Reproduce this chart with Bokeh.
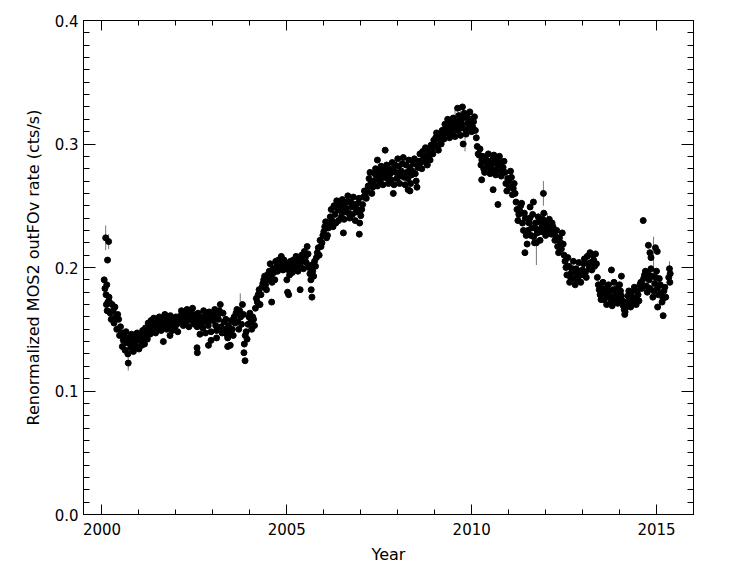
from bokeh.plotting import figure
from bokeh.models import (Range1d, LinearAxis, SingleIntervalTicker, PrintfTickFormatter,
                          CustomJSTickFormatter, ColumnDataSource)
from bokeh.embed import file_html
from bokeh.resources import INLINE

# ---- data ----
start_t = [2000.06, 2000.08, 2000.10, 2000.11, 2000.12, 2000.13, 2000.14, 2000.15, 2000.16, 2000.18, 2000.19]
start_r = [0.190, 0.183, 0.224, 0.178, 0.170, 0.186, 0.165, 0.206, 0.172, 0.221, 0.176]

main_t = [
    2000.20, 2000.25, 2000.30, 2000.35, 2000.40, 2000.45, 2000.50, 2000.55, 2000.60, 2000.65, 2000.70, 2000.75, 2000.80, 2000.85, 2000.90, 2000.95,
    2001.00, 2001.05, 2001.10, 2001.15, 2001.20, 2001.25, 2001.30, 2001.35, 2001.40, 2001.45, 2001.50, 2001.55, 2001.60, 2001.65, 2001.70, 2001.75, 2001.80, 2001.85, 2001.90, 2001.95,
    2002.00, 2002.05, 2002.10, 2002.15, 2002.20, 2002.25, 2002.30, 2002.35, 2002.40, 2002.45, 2002.50, 2002.55, 2002.60, 2002.65, 2002.70, 2002.75, 2002.80, 2002.85, 2002.90, 2002.95,
    2003.00, 2003.05, 2003.10, 2003.15, 2003.20, 2003.25, 2003.30, 2003.35, 2003.40, 2003.45, 2003.50, 2003.55, 2003.60, 2003.65, 2003.70, 2003.75, 2003.80, 2003.85, 2003.90, 2003.95,
    2004.00, 2004.05, 2004.10, 2004.15, 2004.20, 2004.25, 2004.30, 2004.35, 2004.40, 2004.45, 2004.50, 2004.55, 2004.60, 2004.65, 2004.70, 2004.75, 2004.80, 2004.85, 2004.90, 2004.95,
    2005.00, 2005.05, 2005.10, 2005.15, 2005.20, 2005.25, 2005.30, 2005.35, 2005.40, 2005.45, 2005.50, 2005.55, 2005.60, 2005.65, 2005.70, 2005.75, 2005.80, 2005.85, 2005.90, 2005.95,
    2006.00, 2006.05, 2006.10, 2006.15, 2006.20, 2006.25, 2006.30, 2006.35, 2006.40, 2006.45, 2006.50, 2006.55, 2006.60, 2006.65, 2006.70, 2006.75, 2006.80, 2006.85, 2006.90, 2006.95,
    2007.00, 2007.05, 2007.10, 2007.15, 2007.20, 2007.25, 2007.30, 2007.35, 2007.40, 2007.45, 2007.50, 2007.55, 2007.60, 2007.65, 2007.70, 2007.75, 2007.80, 2007.85, 2007.90, 2007.95,
    2008.00, 2008.05, 2008.10, 2008.15, 2008.20, 2008.25, 2008.30, 2008.35, 2008.40, 2008.45, 2008.50, 2008.55, 2008.60, 2008.65, 2008.70, 2008.75, 2008.80, 2008.85, 2008.90, 2008.95,
    2009.00, 2009.05, 2009.10, 2009.15, 2009.20, 2009.25, 2009.30, 2009.35, 2009.40, 2009.45, 2009.50, 2009.55, 2009.60, 2009.65, 2009.70, 2009.75, 2009.80, 2009.85, 2009.90, 2009.95,
    2010.00, 2010.05, 2010.10, 2010.15, 2010.20, 2010.25, 2010.30, 2010.35, 2010.40, 2010.45, 2010.50, 2010.55, 2010.60, 2010.65, 2010.70, 2010.75, 2010.80, 2010.85, 2010.90, 2010.95,
    2011.00, 2011.05, 2011.10, 2011.15, 2011.20, 2011.25, 2011.30, 2011.35, 2011.40, 2011.45, 2011.50, 2011.55, 2011.60, 2011.65, 2011.70, 2011.75, 2011.80, 2011.85, 2011.90, 2011.95,
    2012.00, 2012.05, 2012.10, 2012.15, 2012.20, 2012.25, 2012.30, 2012.35, 2012.40, 2012.45, 2012.50, 2012.55, 2012.60, 2012.65, 2012.70, 2012.75, 2012.80, 2012.85, 2012.90, 2012.95,
    2013.00, 2013.05, 2013.10, 2013.15, 2013.20, 2013.25, 2013.30, 2013.35, 2013.40, 2013.45, 2013.50, 2013.55, 2013.60, 2013.65, 2013.70, 2013.75, 2013.80, 2013.85, 2013.90, 2013.95,
    2014.00, 2014.05, 2014.10, 2014.15, 2014.20, 2014.25, 2014.30, 2014.35, 2014.40, 2014.45, 2014.50, 2014.55, 2014.60, 2014.65, 2014.70, 2014.75, 2014.80, 2014.85, 2014.90, 2014.95,
    2015.00, 2015.05, 2015.10, 2015.15, 2015.20, 2015.25,
]
main_r = [
    0.172, 0.158, 0.165, 0.168, 0.150, 0.158, 0.152, 0.136, 0.144, 0.148, 0.130, 0.139, 0.146, 0.132, 0.140, 0.147,
    0.134, 0.141, 0.149, 0.138, 0.146, 0.155, 0.146, 0.152, 0.159, 0.147, 0.154, 0.160, 0.149, 0.155, 0.162, 0.150, 0.156, 0.161, 0.149, 0.155,
    0.160, 0.148, 0.156, 0.165, 0.153, 0.159, 0.166, 0.152, 0.160, 0.167, 0.154, 0.160, 0.163, 0.146, 0.155, 0.165, 0.147, 0.156, 0.164, 0.148,
    0.157, 0.166, 0.149, 0.158, 0.170, 0.147, 0.156, 0.158, 0.143, 0.150, 0.157, 0.145, 0.155, 0.166, 0.150, 0.160, 0.170, 0.138, 0.148, 0.154,
    0.163, 0.150, 0.158, 0.167, 0.172, 0.182, 0.178, 0.187, 0.193, 0.182, 0.190, 0.203, 0.188, 0.196, 0.205, 0.197, 0.203, 0.209, 0.198, 0.204,
    0.190, 0.198, 0.205, 0.196, 0.203, 0.209, 0.197, 0.204, 0.210, 0.199, 0.208, 0.217, 0.200, 0.190, 0.197, 0.205, 0.208, 0.216, 0.222, 0.220,
    0.229, 0.237, 0.226, 0.236, 0.247, 0.233, 0.243, 0.254, 0.238, 0.246, 0.255, 0.239, 0.248, 0.258, 0.240, 0.249, 0.257, 0.238, 0.247, 0.256,
    0.242, 0.251, 0.262, 0.256, 0.266, 0.277, 0.260, 0.270, 0.280, 0.266, 0.274, 0.282, 0.267, 0.275, 0.283, 0.268, 0.276, 0.285, 0.267, 0.277,
    0.288, 0.268, 0.278, 0.289, 0.267, 0.277, 0.287, 0.268, 0.278, 0.288, 0.270, 0.281, 0.292, 0.280, 0.289, 0.297, 0.283, 0.291, 0.299, 0.292,
    0.300, 0.309, 0.295, 0.303, 0.311, 0.304, 0.312, 0.320, 0.305, 0.313, 0.321, 0.306, 0.315, 0.323, 0.307, 0.316, 0.325, 0.308, 0.317, 0.326,
    0.310, 0.318, 0.311, 0.298, 0.291, 0.283, 0.290, 0.277, 0.285, 0.292, 0.276, 0.284, 0.291, 0.275, 0.283, 0.290, 0.274, 0.281, 0.277, 0.262,
    0.270, 0.278, 0.259, 0.268, 0.253, 0.238, 0.246, 0.252, 0.230, 0.240, 0.219, 0.236, 0.226, 0.243, 0.220, 0.231, 0.241, 0.222, 0.233, 0.244,
    0.226, 0.234, 0.239, 0.227, 0.233, 0.222, 0.230, 0.212, 0.220, 0.228, 0.210, 0.200, 0.208, 0.188, 0.196, 0.205, 0.186, 0.195, 0.204, 0.188,
    0.198, 0.207, 0.192, 0.203, 0.212, 0.198, 0.206, 0.211, 0.192, 0.182, 0.174, 0.188, 0.179, 0.170, 0.186, 0.177, 0.169, 0.188, 0.178, 0.171,
    0.186, 0.177, 0.169, 0.164, 0.172, 0.181, 0.168, 0.176, 0.184, 0.170, 0.178, 0.186, 0.183, 0.191, 0.197, 0.180, 0.190, 0.199, 0.176, 0.187,
    0.197, 0.178, 0.186, 0.172, 0.181, 0.176,
]

# second set of observations, interleaved with the first
fill_t = [
    2000.225, 2000.275, 2000.325, 2000.375, 2000.425, 2000.475, 2000.525, 2000.575, 2000.625, 2000.675, 2000.725, 2000.775, 2000.825, 2000.875, 2000.925, 2000.975,
    2001.025, 2001.075, 2001.125, 2001.175, 2001.225, 2001.275, 2001.325, 2001.375, 2001.425, 2001.475, 2001.525, 2001.575, 2001.625, 2001.675, 2001.725, 2001.775, 2001.825, 2001.875, 2001.925, 2001.975,
    2002.025, 2002.075, 2002.125, 2002.175, 2002.225, 2002.275, 2002.325, 2002.375, 2002.425, 2002.475, 2002.525, 2002.575, 2002.625, 2002.675, 2002.725, 2002.775, 2002.825, 2002.875, 2002.925, 2002.975,
    2003.025, 2003.075, 2003.125, 2003.175, 2003.225, 2003.275, 2003.325, 2003.375, 2003.425, 2003.475, 2003.525, 2003.575, 2003.625, 2003.675, 2003.725, 2003.775, 2003.825, 2003.875, 2003.925, 2003.975,
    2004.025, 2004.075, 2004.125, 2004.175, 2004.225, 2004.275, 2004.325, 2004.375, 2004.425, 2004.475, 2004.525, 2004.575, 2004.625, 2004.675, 2004.725, 2004.775, 2004.825, 2004.875, 2004.925, 2004.975,
    2005.025, 2005.075, 2005.125, 2005.175, 2005.225, 2005.275, 2005.325, 2005.375, 2005.425, 2005.475, 2005.525, 2005.575, 2005.625, 2005.675, 2005.725, 2005.775, 2005.825, 2005.875, 2005.925, 2005.975,
    2006.025, 2006.075, 2006.125, 2006.175, 2006.225, 2006.275, 2006.325, 2006.375, 2006.425, 2006.475, 2006.525, 2006.575, 2006.625, 2006.675, 2006.725, 2006.775, 2006.825, 2006.875, 2006.925, 2006.975,
    2007.025, 2007.075, 2007.125, 2007.175, 2007.225, 2007.275, 2007.325, 2007.375, 2007.425, 2007.475, 2007.525, 2007.575, 2007.625, 2007.675, 2007.725, 2007.775, 2007.825, 2007.875, 2007.925, 2007.975,
    2008.025, 2008.075, 2008.125, 2008.175, 2008.225, 2008.275, 2008.325, 2008.375, 2008.425, 2008.475, 2008.525, 2008.575, 2008.625, 2008.675, 2008.725, 2008.775, 2008.825, 2008.875, 2008.925, 2008.975,
    2009.025, 2009.075, 2009.125, 2009.175, 2009.225, 2009.275, 2009.325, 2009.375, 2009.425, 2009.475, 2009.525, 2009.575, 2009.625, 2009.675, 2009.725, 2009.775, 2009.825, 2009.875, 2009.925, 2009.975,
    2010.025, 2010.075, 2010.125, 2010.175, 2010.225, 2010.275, 2010.325, 2010.375, 2010.425, 2010.475, 2010.525, 2010.575, 2010.625, 2010.675, 2010.725, 2010.775, 2010.825, 2010.875, 2010.925, 2010.975,
    2011.025, 2011.075, 2011.125, 2011.175, 2011.225, 2011.275, 2011.325, 2011.375, 2011.425, 2011.475, 2011.525, 2011.575, 2011.625, 2011.675, 2011.725, 2011.775, 2011.825, 2011.875, 2011.925, 2011.975,
    2012.025, 2012.075, 2012.125, 2012.175, 2012.225, 2012.275, 2012.325, 2012.375, 2012.425, 2012.475, 2012.525, 2012.575, 2012.625, 2012.675, 2012.725, 2012.775, 2012.825, 2012.875, 2012.925, 2012.975,
    2013.025, 2013.075, 2013.125, 2013.175, 2013.225, 2013.275, 2013.325, 2013.375, 2013.425, 2013.475, 2013.525, 2013.575, 2013.625, 2013.675, 2013.725, 2013.775, 2013.825, 2013.875, 2013.925, 2013.975,
    2014.025, 2014.075, 2014.125, 2014.175, 2014.225, 2014.275, 2014.325, 2014.375, 2014.425, 2014.475, 2014.525, 2014.575, 2014.625, 2014.675, 2014.725, 2014.775, 2014.825, 2014.875, 2014.925, 2014.975,
    2015.025, 2015.075, 2015.125, 2015.175, 2015.225,
]
fill_r = [
    0.163, 0.170, 0.155, 0.160, 0.162, 0.145, 0.147, 0.141, 0.133, 0.139, 0.143, 0.135, 0.138, 0.143, 0.136, 0.141,
    0.145, 0.137, 0.143, 0.151, 0.142, 0.150, 0.157, 0.149, 0.153, 0.156, 0.151, 0.157, 0.153, 0.159, 0.152, 0.158, 0.153, 0.151, 0.158, 0.152,
    0.154, 0.158, 0.161, 0.157, 0.162, 0.156, 0.160, 0.164, 0.157, 0.162, 0.158, 0.152, 0.157, 0.160, 0.151, 0.159, 0.162, 0.153, 0.158, 0.161,
    0.162, 0.153, 0.161, 0.165, 0.152, 0.163, 0.150, 0.146, 0.153, 0.148, 0.150, 0.160, 0.163, 0.156, 0.165, 0.154, 0.162, 0.145, 0.142, 0.160,
    0.156, 0.160, 0.153, 0.175, 0.178, 0.170, 0.184, 0.190, 0.186, 0.194, 0.197, 0.193, 0.199, 0.190, 0.201, 0.206, 0.199, 0.201, 0.206, 0.200,
    0.201, 0.194, 0.200, 0.206, 0.199, 0.202, 0.206, 0.200, 0.205, 0.213, 0.204, 0.211, 0.195, 0.202, 0.193, 0.201, 0.212, 0.210, 0.217, 0.226,
    0.233, 0.224, 0.232, 0.241, 0.238, 0.250, 0.236, 0.247, 0.251, 0.241, 0.250, 0.245, 0.253, 0.244, 0.253, 0.243, 0.251, 0.245, 0.252, 0.246,
    0.247, 0.257, 0.259, 0.262, 0.272, 0.268, 0.265, 0.276, 0.272, 0.278, 0.270, 0.277, 0.273, 0.279, 0.272, 0.280, 0.271, 0.279, 0.283, 0.272,
    0.282, 0.274, 0.284, 0.273, 0.283, 0.272, 0.281, 0.275, 0.284, 0.276, 0.286, 0.286, 0.285, 0.294, 0.286, 0.290, 0.295, 0.287, 0.296, 0.303,
    0.305, 0.298, 0.307, 0.300, 0.308, 0.316, 0.309, 0.313, 0.317, 0.309, 0.314, 0.318, 0.311, 0.319, 0.313, 0.321, 0.312, 0.322, 0.313, 0.320,
    0.314, 0.322, 0.305, 0.292, 0.296, 0.287, 0.280, 0.288, 0.281, 0.286, 0.280, 0.288, 0.279, 0.287, 0.279, 0.285, 0.278, 0.286, 0.268, 0.272,
    0.265, 0.273, 0.264, 0.260, 0.247, 0.243, 0.250, 0.236, 0.244, 0.226, 0.230, 0.240, 0.232, 0.225, 0.236, 0.228, 0.237, 0.229, 0.239, 0.235,
    0.230, 0.237, 0.232, 0.236, 0.228, 0.225, 0.217, 0.224, 0.215, 0.219, 0.205, 0.194, 0.201, 0.192, 0.199, 0.191, 0.199, 0.190, 0.197, 0.194,
    0.203, 0.196, 0.209, 0.199, 0.204, 0.210, 0.201, 0.203, 0.186, 0.178, 0.183, 0.174, 0.183, 0.176, 0.181, 0.173, 0.182, 0.174, 0.183, 0.176,
    0.181, 0.173, 0.166, 0.168, 0.177, 0.172, 0.180, 0.171, 0.175, 0.181, 0.173, 0.188, 0.186, 0.194, 0.185, 0.195, 0.183, 0.193, 0.181, 0.192,
    0.183, 0.191, 0.179, 0.175, 0.184,
]

end_t = [2015.33, 2015.35, 2015.36, 2015.37]
end_r = [0.192, 0.199, 0.188, 0.195]

outlier_t = [2000.71, 2002.57, 2002.58, 2002.88, 2003.40, 2003.47, 2003.84, 2003.87, 2004.59, 2005.02,
             2005.05, 2005.36, 2005.66, 2005.68, 2006.53, 2006.96, 2006.97, 2007.45, 2007.66, 2007.88,
             2008.28, 2008.33, 2008.52, 2009.62, 2009.75, 2009.77, 2010.27, 2010.58, 2010.71, 2011.44,
             2011.58, 2011.67, 2011.75, 2011.94, 2013.78, 2014.05, 2014.14, 2014.64, 2014.78, 2014.82,
             2014.85, 2014.97, 2015.02, 2015.03, 2015.18, 2001.84, 2001.66, 2002.95, 2003.10]
outlier_r = [0.1226, 0.135, 0.131, 0.137, 0.136, 0.137, 0.131, 0.1245, 0.172, 0.180,
             0.178, 0.182, 0.182, 0.176, 0.228, 0.227, 0.236, 0.287, 0.295, 0.260,
             0.263, 0.262, 0.265, 0.329, 0.330, 0.300, 0.271, 0.263, 0.251, 0.212,
             0.249, 0.253, 0.220, 0.260, 0.198, 0.193, 0.162, 0.238, 0.218, 0.212,
             0.208, 0.216, 0.213, 0.168, 0.161, 0.145, 0.140, 0.141, 0.143]

# points whose error bars stick out beyond the marker
err_t = [2000.10, 2000.18, 2000.71, 2003.74, 2009.55, 2009.70, 2009.82, 2011.75, 2011.94, 2012.05, 2014.92, 2015.35]
err_r = [0.224, 0.221, 0.1226, 0.171, 0.320, 0.316, 0.300, 0.220, 0.260, 0.234, 0.213, 0.199]
err_e = [0.010, 0.006, 0.006, 0.008, 0.010, 0.012, 0.006, 0.018, 0.010, 0.010, 0.012, 0.006]

x_ticks_interval = 5
y_ticks_interval = 0.1

# ---- figure ----
FONT = "DejaVu Sans"
p = figure(width=739, height=566, output_backend="svg", toolbar_location=None,
           x_range=Range1d(1999.5, 2016.0), y_range=Range1d(0.0, 0.4),
           min_border_left=83, min_border_top=20, min_border_right=46, min_border_bottom=50,
           x_axis_label="Year", y_axis_label="Renormalized MOS2 outFOv rate (cts/s)")
p.background_fill_color = "white"
p.border_fill_color = "white"
p.outline_line_color = "black"
p.xgrid.visible = False
p.ygrid.visible = False

all_t = start_t + main_t + fill_t + end_t + outlier_t
all_r = start_r + main_r + fill_r + end_r + outlier_r

err_src = ColumnDataSource(dict(x=err_t,
                                lo=[r - e for r, e in zip(err_r, err_e)],
                                hi=[r + e for r, e in zip(err_r, err_e)]))
p.segment(x0="x", y0="lo", x1="x", y1="hi", source=err_src, line_color="#777777", line_width=1)
p.scatter(all_t, all_r, marker="circle", size=6, fill_color="black", line_color="black", line_width=1)


def style_axis(ax, major_in, minor_in, labels=True):
    ax.axis_line_color = "black"
    ax.major_tick_line_color = "black"
    ax.minor_tick_line_color = "black"
    ax.major_tick_in = major_in
    ax.major_tick_out = 0
    ax.minor_tick_in = minor_in
    ax.minor_tick_out = 0
    if labels:
        ax.major_label_text_font = FONT
        ax.major_label_text_font_size = "15px"
        ax.major_label_text_color = "black"
        ax.axis_label_text_font = FONT
        ax.axis_label_text_font_size = "16px"
        ax.axis_label_text_font_style = "normal"
        ax.axis_label_text_color = "black"
    else:
        ax.formatter = CustomJSTickFormatter(code="return '';")
        ax.major_label_standoff = 0


xa = p.xaxis[0]
xa.ticker = SingleIntervalTicker(interval=x_ticks_interval, num_minor_ticks=5)
xa.formatter = PrintfTickFormatter(format="%d")
style_axis(xa, 10, 5)
xa.major_label_standoff = 8
xa.axis_label_standoff = 7

ya = p.yaxis[0]
ya.ticker = SingleIntervalTicker(interval=y_ticks_interval, num_minor_ticks=10)
ya.formatter = PrintfTickFormatter(format="%.1f")
style_axis(ya, 12, 6)
ya.major_label_standoff = 5
ya.axis_label_standoff = 9

top = LinearAxis(ticker=SingleIntervalTicker(interval=x_ticks_interval, num_minor_ticks=5))
style_axis(top, 10, 5, labels=False)
p.add_layout(top, "above")

right = LinearAxis(ticker=SingleIntervalTicker(interval=y_ticks_interval, num_minor_ticks=10))
style_axis(right, 12, 6, labels=False)
p.add_layout(right, "right")

open("out.html", "w").write(file_html(p, INLINE))
